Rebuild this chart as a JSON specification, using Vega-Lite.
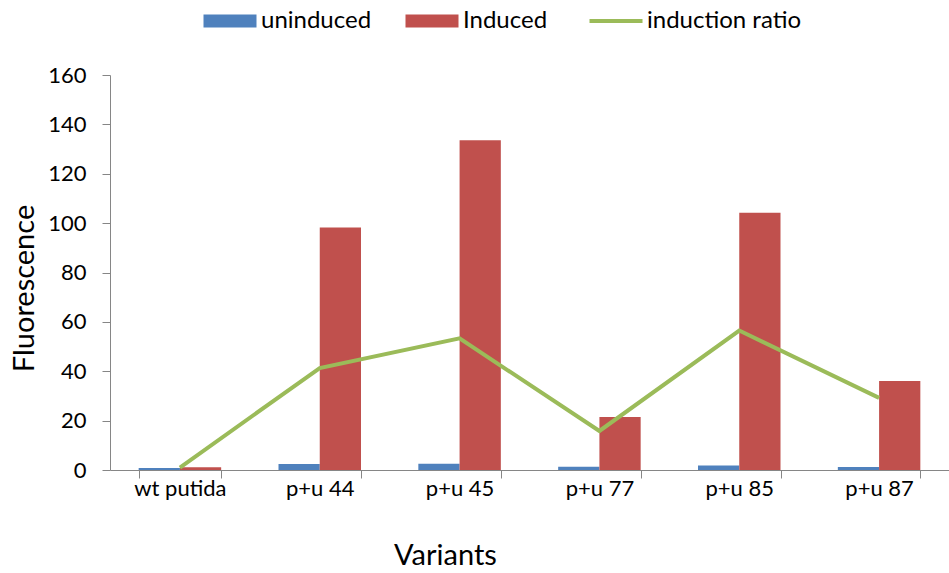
{
  "$schema": "https://vega.github.io/schema/vega-lite/v6.json",
  "autosize": "none",
  "width": 839,
  "height": 395,
  "padding": {"left": 110, "top": 75, "right": 0, "bottom": 103},
  "background": "white",
  "config": {
    "view": {"stroke": null},
    "font": "Lato",
    "axis": {"labelFont": "Lato", "titleFont": "Lato", "labelColor": "black", "titleColor": "black", "titleFontWeight": "normal", "domainColor": "#868686", "tickColor": "#868686", "grid": false},
    "legend": {"labelFont": "Lato"}
  },
  "datasets": {
    "bars": [
      {"variant": "wt putida", "series": "uninduced", "value": 0.8},
      {"variant": "wt putida", "series": "Induced", "value": 1.1},
      {"variant": "p+u 44", "series": "uninduced", "value": 2.4},
      {"variant": "p+u 44", "series": "Induced", "value": 98.2},
      {"variant": "p+u 45", "series": "uninduced", "value": 2.5},
      {"variant": "p+u 45", "series": "Induced", "value": 133.6},
      {"variant": "p+u 77", "series": "uninduced", "value": 1.3},
      {"variant": "p+u 77", "series": "Induced", "value": 21.5},
      {"variant": "p+u 85", "series": "uninduced", "value": 1.8},
      {"variant": "p+u 85", "series": "Induced", "value": 104.2},
      {"variant": "p+u 87", "series": "uninduced", "value": 1.2},
      {"variant": "p+u 87", "series": "Induced", "value": 36.1}
    ],
    "ratio": [
      {"variant": "wt putida", "series": "induction ratio", "value": 1.0},
      {"variant": "p+u 44", "series": "induction ratio", "value": 41.3},
      {"variant": "p+u 45", "series": "induction ratio", "value": 53.3},
      {"variant": "p+u 77", "series": "induction ratio", "value": 15.8},
      {"variant": "p+u 85", "series": "induction ratio", "value": 56.5},
      {"variant": "p+u 87", "series": "induction ratio", "value": 29.2}
    ]
  },
  "layer": [
    {
      "data": {"name": "bars"},
      "mark": {"type": "bar"},
      "encoding": {
        "x": {
          "field": "variant", "type": "nominal", "sort": null,
          "scale": {"paddingInner": 0.41, "paddingOuter": 0.205},
          "axis": {"title": "Variants", "labelAngle": 0, "labelFontSize": 22, "labelPadding": 0, "titleFontSize": 29, "titlePadding": 42, "titleX": 335, "titleAlign": "center", "bandPosition": 0, "tickBand": "extent", "tickSize": 8}
        },
        "xOffset": {"field": "series", "type": "nominal", "sort": ["uninduced", "Induced"], "scale": {"paddingInner": 0, "paddingOuter": 0}},
        "y": {
          "field": "value", "type": "quantitative",
          "scale": {"domain": [0, 160]},
          "axis": {"title": "Fluorescence", "values": [0, 20, 40, 60, 80, 100, 120, 140, 160], "labelFontSize": 22, "labelPadding": 16, "titleFontSize": 29, "titlePadding": 8, "titleY": 213, "titleAlign": "center", "tickSize": 8}
        },
        "color": {
          "field": "series", "type": "nominal",
          "scale": {"domain": ["uninduced", "Induced", "induction ratio"], "range": ["#4F81BD", "#C0504D", "#9BBB59"]},
          "legend": {
            "title": null, "orient": "none", "direction": "horizontal", "legendX": 108, "legendY": -66,
            "labelFontSize": 24, "columnPadding": 33, "symbolSize": 2916, "labelOffset": 19,
            "encode": {
              "symbols": {
                "update": {
                  "shape": {"signal": "datum.value === 'induction ratio' ? 'stroke' : 'M-1,-0.245H1V0.245H-1Z'"},
                  "stroke": {"signal": "scale('color', datum.value)"},
                  "strokeWidth": {"signal": "datum.value === 'induction ratio' ? 4 : 0"},
                  "size": {"value": 2809},
                  "opacity": {"value": 1}
                }
              }
            }
          }
        }
      }
    },
    {
      "data": {"name": "ratio"},
      "mark": {"type": "line", "strokeWidth": 4},
      "encoding": {
        "x": {"field": "variant", "type": "nominal", "sort": null},
        "y": {"field": "value", "type": "quantitative"},
        "color": {"field": "series", "type": "nominal"}
      }
    }
  ]
}
